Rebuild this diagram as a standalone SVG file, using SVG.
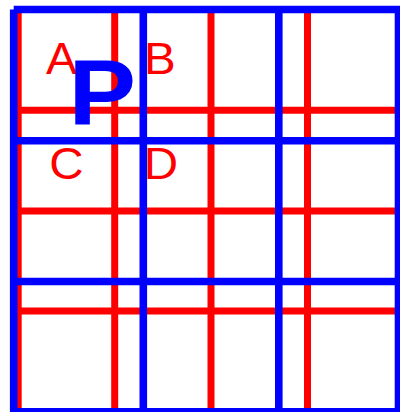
<svg xmlns="http://www.w3.org/2000/svg" width="400" height="412" viewBox="0 0 400 412">
<style>
.r{stroke:#ff0000;stroke-width:7;fill:none}
.b{stroke:#0000ff;stroke-width:7.6;fill:none}
.t{font-family:"Liberation Sans",Arial,sans-serif;font-size:44px;fill:#ff0000}
.p{font-family:"Liberation Sans",Arial,sans-serif;font-size:92px;font-weight:bold;fill:#0000ff}
</style>
<rect width="400" height="412" fill="#ffffff"/>
<g id="red-grid">
<line class="r" x1="18.2" y1="13" x2="18.2" y2="408"/>
<line class="r" x1="114.7" y1="13" x2="114.7" y2="408"/>
<line class="r" x1="211" y1="13" x2="211" y2="408"/>
<line class="r" x1="307.5" y1="13" x2="307.5" y2="408"/>
<line class="r" x1="18" y1="110.3" x2="395" y2="110.3"/>
<line class="r" x1="18" y1="211" x2="395" y2="211"/>
<line class="r" x1="18" y1="311" x2="395" y2="311"/>
</g>
<g id="labels">
<text class="t" transform="translate(46,73.8) scale(1.06,1)">A</text>
<text class="t" transform="translate(144,73.8) scale(1.08,1)">B</text>
<text class="t" transform="translate(49.3,179) scale(1.08,1)">C</text>
<text class="t" transform="translate(143.8,179) scale(1.08,1)">D</text>
</g>
<g id="blue-grid">
<line class="b" x1="13.7" y1="9.5" x2="13.7" y2="412"/>
<line class="b" x1="143.3" y1="9.5" x2="143.3" y2="412"/>
<line class="b" x1="278.8" y1="9.5" x2="278.8" y2="412"/>
<line class="b" x1="398.5" y1="9.5" x2="398.5" y2="412"/>
<line class="b" x1="13.7" y1="9.5" x2="400" y2="9.5"/>
<line class="b" x1="13.7" y1="140.8" x2="400" y2="140.8"/>
<line class="b" x1="13.7" y1="281.5" x2="400" y2="281.5"/>
<line class="b" x1="13.7" y1="411.8" x2="400" y2="411.8"/>
</g>
<g id="P">
<text class="p" transform="translate(68.5,125) scale(1.1,1)">P</text>
</g>
</svg>
